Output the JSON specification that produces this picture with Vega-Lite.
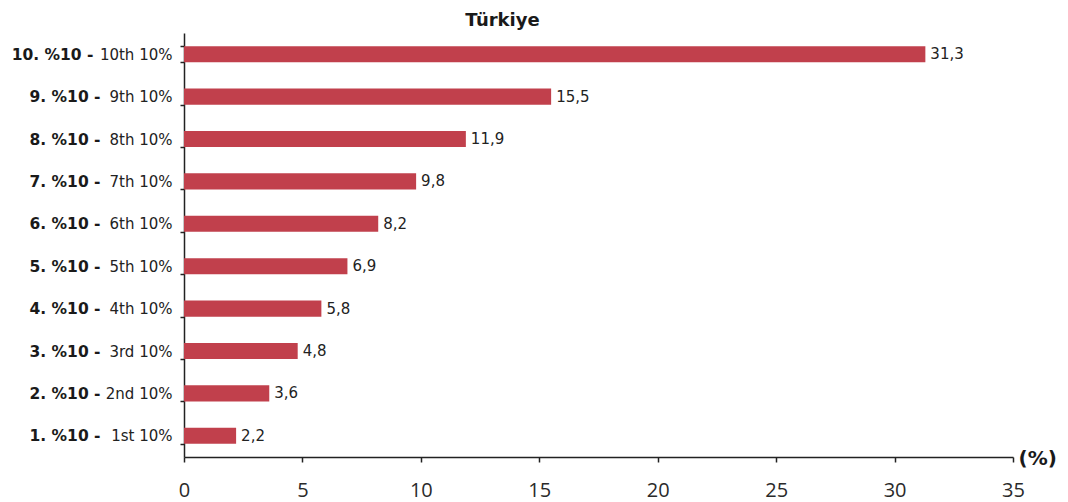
{
  "$schema": "https://vega.github.io/schema/vega-lite/v6.json",
  "autosize": "none",
  "width": 829,
  "height": 424,
  "padding": {"left": 184, "top": 33, "right": 55, "bottom": 45},
  "background": "white",
  "title": {
    "text": "Türkiye",
    "font": "DejaVu Sans",
    "fontSize": 18,
    "fontWeight": "bold",
    "color": "#1a1a1a",
    "anchor": "middle",
    "dx": -96,
    "offset": -4
  },
  "config": {
    "view": {"stroke": null},
    "locale": {"number": {"decimal": ",", "thousands": ".", "grouping": [3], "currency": ["", ""]}}
  },
  "data": {
    "values": [
      {"group": "10. %10 - 10th 10%", "value": 31.3},
      {"group": "9. %10 - 9th 10%", "value": 15.5},
      {"group": "8. %10 - 8th 10%", "value": 11.9},
      {"group": "7. %10 - 7th 10%", "value": 9.8},
      {"group": "6. %10 - 6th 10%", "value": 8.2},
      {"group": "5. %10 - 5th 10%", "value": 6.9},
      {"group": "4. %10 - 4th 10%", "value": 5.8},
      {"group": "3. %10 - 3rd 10%", "value": 4.8},
      {"group": "2. %10 - 2nd 10%", "value": 3.6},
      {"group": "1. %10 - 1st 10%", "value": 2.2}
    ]
  },
  "layer": [
    {
      "mark": {"type": "bar", "color": "#c1404c"},
      "encoding": {
        "y": {
          "field": "group",
          "type": "nominal",
          "sort": null,
          "scale": {"paddingInner": 0.62, "paddingOuter": 0.31},
          "axis": {
            "title": null,
            "orient": "left",
            "labelExpr": "split(datum.label, ' - ')[1]",
            "labelFont": "DejaVu Sans",
            "labelFontSize": 15,
            "labelColor": "#222222",
            "labelPadding": 8,
            "tickSize": 4,
            "tickBand": "extent",
            "tickColor": "#222222",
            "domainColor": "#222222",
            "domainWidth": 1.5,
            "tickWidth": 1.5
          }
        },
        "x": {
          "field": "value",
          "type": "quantitative",
          "scale": {"domain": [0, 35], "nice": false},
          "axis": {
            "values": [0, 5, 10, 15, 20, 25, 30, 35],
            "grid": false,
            "title": "(%)",
            "titleFont": "DejaVu Sans",
            "titleFontSize": 20,
            "titleFontWeight": "bold",
            "titleColor": "#1a1a1a",
            "titleAnchor": null,
            "titleAlign": "left",
            "titleBaseline": "middle",
            "titleX": 834,
            "titleY": 1,
            "labelFlush": false,
            "labelFont": "Open Sans",
            "labelFontSize": 20,
            "labelColor": "#2a2a2a",
            "labelPadding": 18,
            "tickSize": 5,
            "tickColor": "#222222",
            "domainColor": "#222222",
            "domainWidth": 1.5,
            "tickWidth": 1.5
          }
        }
      }
    },
    {
      "mark": {"type": "text", "align": "left", "baseline": "middle", "dx": 5, "font": "DejaVu Sans", "fontSize": 15, "color": "#222222"},
      "encoding": {
        "y": {
          "field": "group",
          "type": "nominal",
          "sort": null,
          "scale": {"paddingInner": 0.62, "paddingOuter": 0.31},
          "axis": {
            "title": null,
            "orient": "left",
            "offset": 84,
            "domain": false,
            "ticks": false,
            "labelPadding": {"condition": {"test": "indexof(datum.value, '10.') == 0", "value": 7}, "value": 0},
            "labelExpr": "split(datum.label, ' - ')[0] + ' -'",
            "labelFont": "DejaVu Sans",
            "labelFontSize": 15.5,
            "labelFontWeight": "bold",
            "labelColor": "#1a1a1a"
          }
        },
        "x": {"field": "value", "type": "quantitative"},
        "text": {"field": "value", "type": "quantitative", "format": ".1f"}
      }
    }
  ],
  "resolve": {"scale": {"y": "independent"}, "axis": {"y": "independent"}}
}
